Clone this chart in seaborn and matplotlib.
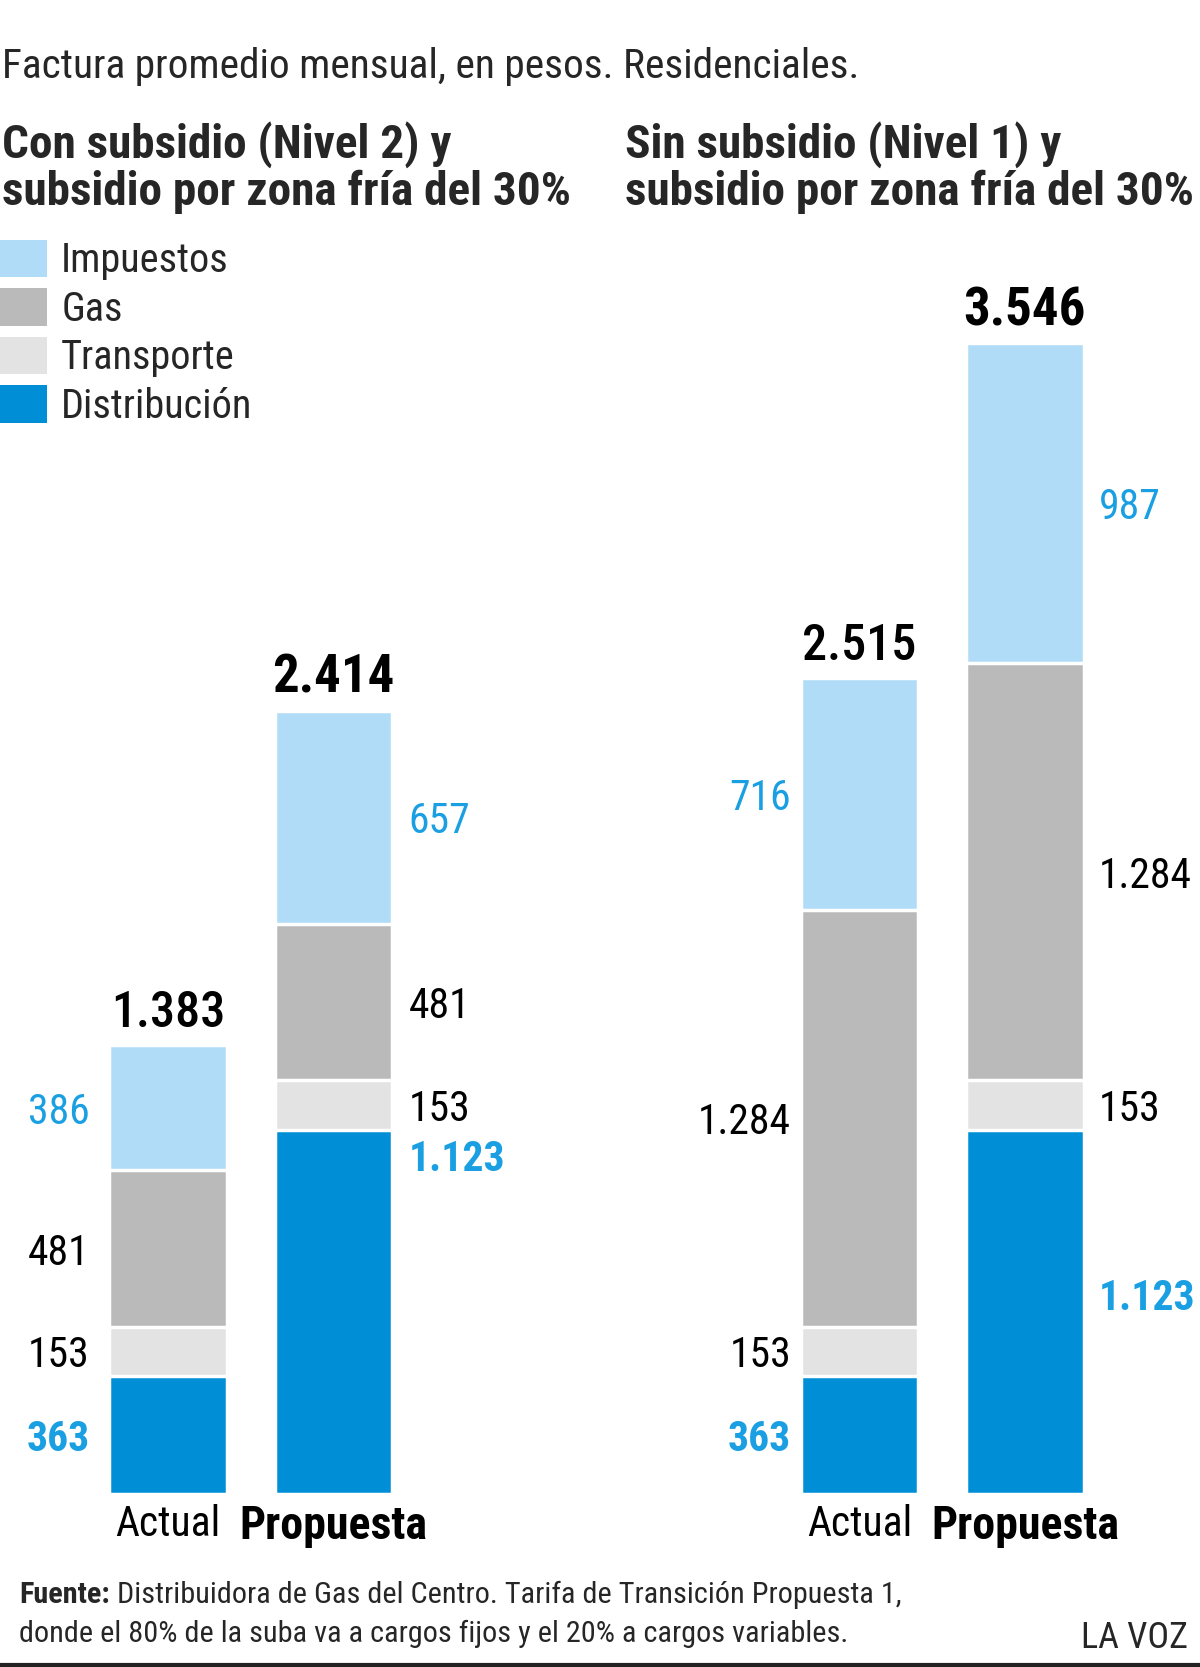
import matplotlib
matplotlib.use('Agg')
import matplotlib.pyplot as plt
import matplotlib.patches as mpatches
from matplotlib.lines import Line2D
from matplotlib import font_manager
import pandas as pd
import seaborn as sns

# --- Data: factura promedio mensual (pesos) ---
COMPONENTS = ['Distribución', 'Transporte', 'Gas', 'Impuestos']  # bottom -> top
BAR_NAMES = ['Actual', 'Propuesta']

con_actual = [363, 153, 481, 386]
con_propuesta = [1123, 153, 481, 657]
sin_actual = [363, 153, 1284, 716]
sin_propuesta = [1123, 153, 1284, 987]

con_totals = [1383, 2414]
sin_totals = [2515, 3546]

TITLE = 'Factura promedio mensual, en pesos. Residenciales.'
LEFT_SUBTITLE = ['Con subsidio (Nivel 2) y', 'subsidio por zona fría del 30%']
RIGHT_SUBTITLE = ['Sin subsidio (Nivel 1) y', 'subsidio por zona fría del 30%']
SOURCE_BOLD = 'Fuente:'
SOURCE_LINE1 = ' Distribuidora de Gas del Centro. Tarifa de Transición Propuesta 1,'
SOURCE_LINE2 = 'donde el 80% de la suba va a cargos fijos y el 20% a cargos variables.'
BRAND = 'LA VOZ'

# --- Style ---
COLORS = {
    'Impuestos': '#b1dcf7',
    'Gas': '#bbbabb',
    'Transporte': '#e3e3e3',
    'Distribución': '#008fd6',
}
LABEL_BLUE = '#1a9fe2'
BAR_W = 0.71
W, H = 1200, 1667

sns.set_theme(style='white')
available = {f.name for f in font_manager.fontManager.ttflist}
FONT = 'DejaVu Sans'
for cand in ['Roboto Condensed', 'Liberation Sans Narrow', 'Open Sans Condensed', 'Roboto']:
    if cand in available:
        FONT = cand
        break
plt.rcParams['font.family'] = [FONT, 'DejaVu Sans']


def fmt(v):
    return f'{v:,}'.replace(',', '.')


def panel_frame(actual, propuesta):
    rows = []
    for bar, vals in zip(BAR_NAMES, [actual, propuesta]):
        cum = 0
        for comp, v in zip(COMPONENTS, vals):
            rows.append({'bar': bar, 'component': comp, 'value': v,
                         'bottom': cum, 'top': cum + v})
            cum += v
    return pd.DataFrame(rows)


def draw_panel(ax, df, totals, left_gap, right_gap, dist_frac):
    # stacked look: draw cumulative tops, tallest first
    for comp in reversed(COMPONENTS):
        sub = df[df['component'] == comp]
        sns.barplot(data=sub, x='bar', y='top', order=BAR_NAMES,
                    color=COLORS[comp], saturation=1, width=BAR_W,
                    edgecolor='white', linewidth=2.5, errorbar=None, ax=ax)

    for i, bar in enumerate(BAR_NAMES):
        sub = df[df['bar'] == bar]
        for _, r in sub.iterrows():
            frac = 0.5
            if bar == 'Propuesta' and r['component'] == 'Distribución':
                frac = dist_frac
            y = r['bottom'] + r['value'] * frac
            if i == 0:
                xy, off, ha = (i - BAR_W / 2, y), (-left_gap, 0), 'right'
            else:
                xy, off, ha = (i + BAR_W / 2, y), (right_gap, 0), 'left'
            blue = r['component'] in ('Impuestos', 'Distribución')
            ax.annotate(fmt(r['value']), xy, xytext=off, textcoords='offset points',
                        ha=ha, va='center_baseline', fontsize=30,
                        color=LABEL_BLUE if blue else 'black',
                        fontweight='bold' if r['component'] == 'Distribución' else 'normal')

        ax.annotate(fmt(totals[i]), (i, totals[i]), xytext=(0, 13),
                    textcoords='offset points', ha='center', va='baseline',
                    fontsize=38 if i == 1 else 36, color='black',
                    fontweight='bold' if i == 1 else 'medium')

    ax.set_xlim(-0.6, 1.6)
    ax.set_ylim(0, 4000)
    ax.set_xlabel('')
    ax.set_ylabel('')
    ax.set_yticks([])
    ax.set_xticks([0, 1], BAR_NAMES)
    ax.tick_params(axis='x', length=0, pad=7, labelsize=30, labelcolor='black')
    ax.get_xticklabels()[1].set_fontweight('bold')
    ax.get_xticklabels()[1].set_fontsize(33)
    sns.despine(ax=ax, left=True, bottom=True)
    ax.patch.set_alpha(0)


fig = plt.figure(figsize=(W / 100, H / 100), dpi=100)
fig.patch.set_facecolor('white')

ax_bottom = (H - 1494) / H
ax_height = 1298 / H
ax_left = fig.add_axes([68.7 / W, ax_bottom, 364 / W, ax_height])
ax_right = fig.add_axes([760.2 / W, ax_bottom, 364 / W, ax_height])

draw_panel(ax_left, panel_frame(con_actual, con_propuesta), con_totals,
           left_gap=14, right_gap=12, dist_frac=0.93)
draw_panel(ax_right, panel_frame(sin_actual, sin_propuesta), sin_totals,
           left_gap=7, right_gap=11, dist_frac=0.55)

# --- Titles ---
fig.text(2 / W, 1 - 66 / H, TITLE, ha='left', va='center', fontsize=29.8)
for k, y in enumerate([145, 192]):
    fig.text(2 / W, 1 - y / H, LEFT_SUBTITLE[k], ha='left', va='center',
             fontsize=34, fontweight='heavy')
    fig.text(625 / W, 1 - y / H, RIGHT_SUBTITLE[k], ha='left', va='center',
             fontsize=34, fontweight='heavy')

# --- Legend ---
handles = [mpatches.Patch(facecolor=COLORS[c], edgecolor='none', label=c)
           for c in reversed(COMPONENTS)]
fig.legend(handles=handles, loc='upper left', bbox_to_anchor=(0.0, 1 - 240 / H),
           frameon=False, fontsize=29, handlelength=1.17, handleheight=1.05,
           handletextpad=0.35, labelspacing=0.2, borderpad=0, borderaxespad=0)

# --- Footer ---
src = fig.text(19 / W, 1 - 1595 / H, SOURCE_BOLD, ha='left', va='center',
               fontsize=21.8, fontweight='bold')
fig.canvas.draw()
bb = src.get_window_extent(renderer=fig.canvas.get_renderer())
fig.text(bb.x1 / W, 1 - 1595 / H, SOURCE_LINE1, ha='left', va='center', fontsize=21.8)
fig.text(19 / W, 1 - 1634 / H, SOURCE_LINE2, ha='left', va='center', fontsize=21.8)
fig.text(1188 / W, 1 - 1638 / H, BRAND, ha='right', va='center', fontsize=26)
fig.add_artist(Line2D([0, 1], [2 / H, 2 / H], transform=fig.transFigure,
                      color='#222222', lw=3))

fig.savefig('out.png', dpi=100, facecolor='white')
